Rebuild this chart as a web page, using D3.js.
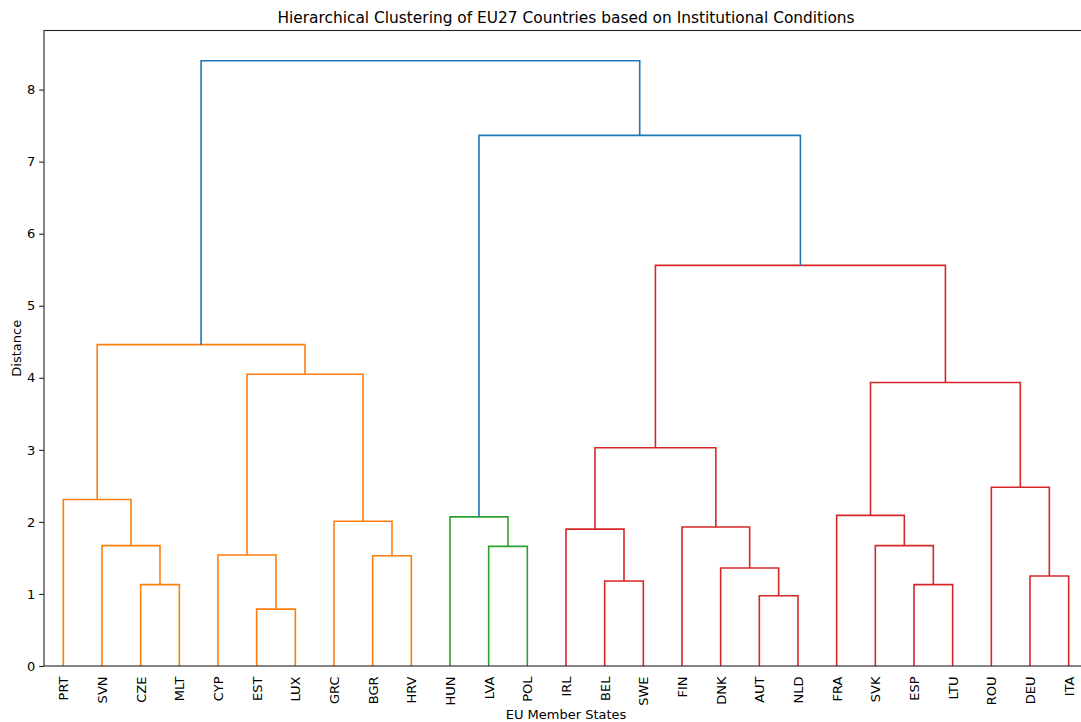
<!DOCTYPE html>
<html>
<head>
<meta charset="utf-8">
<script src="https://cdn.jsdelivr.net/npm/d3@7"></script>
<style>
  html, body { margin: 0; padding: 0; background: #fff; }
  svg { display: block; }
  text { font-family: "DejaVu Sans", sans-serif; fill: #000; }
</style>
</head>
<body>
<svg id="chart" width="1081" height="722"></svg>
<script>
// ---- Data ----
const leaves = ["PRT","SVN","CZE","MLT","CYP","EST","LUX","GRC","BGR","HRV",
                "HUN","LVA","POL","IRL","BEL","SWE","FIN","DNK","AUT","NLD",
                "FRA","SVK","ESP","LTU","ROU","DEU","ITA"];
// merges: [left, right, distance]; clusters are named c0, c1, ... in order
const mergeLeft  = ["CZE","SVN","PRT","EST","CYP","BGR","GRC","c4","c2",
                    "LVA","HUN",
                    "BEL","IRL","AUT","DNK","FIN","c12","ESP","SVK","FRA","DEU","ROU","c19","c16",
                    "c10","c8"];
const mergeRight = ["MLT","c0","c1","LUX","c3","HRV","c5","c6","c7",
                    "POL","c9",
                    "SWE","c11","NLD","c13","c14","c15","LTU","c17","c18","ITA","c20","c21","c22",
                    "c23","c24"];
const mergeDist  = [1.13,1.67,2.31,0.79,1.54,1.53,2.01,4.05,4.46,
                    1.66,2.07,
                    1.18,1.90,0.975,1.36,1.93,3.03,1.13,1.67,2.09,1.25,2.48,3.935,5.56,
                    7.365,8.40];
const yTicks = [0,1,2,3,4,5,6,7,8];
const titleText = "Hierarchical Clustering of EU27 Countries based on Institutional Conditions";
const xLabel = "EU Member States";
const yLabel = "Distance";

// ---- Layout ----
const W = 1081, H = 722;
const plot = { left: 44, right: 1088, top: 30.5, bottom: 666 };
const aboveColor = "#1f77b4";
const palette = ["#ff7f0e", "#2ca02c", "#d62728", "#9467bd"];
const maxDist = d3.max(mergeDist);
const threshold = 0.7 * maxDist;

const svg = d3.select("#chart");

const x = d3.scaleLinear().domain([0, leaves.length * 10]).range([plot.left, plot.right]);
const y = d3.scaleLinear().domain([0, maxDist * 1.05]).range([plot.bottom, plot.top]);

// node positions
const pos = {};
leaves.forEach((l, i) => { pos[l] = { x: 5 + 10 * i, h: 0 }; });
const nodes = mergeLeft.map((a, k) => {
  const b = mergeRight[k];
  const n = { name: "c" + k, a, b, h: mergeDist[k], x: (pos[a].x + pos[b].x) / 2 };
  pos[n.name] = n;
  return n;
});

// colors (scipy-like threshold coloring)
const colorOf = {};
let groupIdx = 0;
function paint(name, col) {
  const n = pos[name];
  if (!n.a) return;
  colorOf[name] = col;
  paint(n.a, col); paint(n.b, col);
}
function assign(name) {
  const n = pos[name];
  if (!n.a) return;
  if (n.h >= threshold) {
    colorOf[name] = aboveColor;
    assign(n.a); assign(n.b);
  } else {
    paint(name, palette[groupIdx % palette.length]);
    groupIdx++;
  }
}
assign(nodes[nodes.length - 1].name);

// ---- Links ----
const g = svg.append("g");
nodes.forEach(n => {
  const pa = pos[n.a], pb = pos[n.b];
  const path = d3.path();
  path.moveTo(x(pa.x), y(pa.h));
  path.lineTo(x(pa.x), y(n.h));
  path.lineTo(x(pb.x), y(n.h));
  path.lineTo(x(pb.x), y(pb.h));
  g.append("path")
    .attr("d", path.toString())
    .attr("fill", "none")
    .attr("stroke", colorOf[n.name])
    .attr("stroke-width", 1.6);
});

// ---- Frame ----
svg.append("rect")
  .attr("x", plot.left).attr("y", plot.top)
  .attr("width", plot.right - plot.left).attr("height", plot.bottom - plot.top)
  .attr("fill", "none").attr("stroke", "#222").attr("stroke-width", 1.1);

// ---- Y axis ----
const yAxis = d3.axisLeft(y).tickValues(yTicks).tickFormat(d3.format("d")).tickSize(4.8).tickPadding(4);
const ya = svg.append("g").attr("transform", `translate(${plot.left},0)`).call(yAxis);
ya.select(".domain").remove();
ya.selectAll("line").attr("stroke", "#222").attr("stroke-width", 1.1);
ya.selectAll("text").attr("font-size", 13).attr("font-family", "DejaVu Sans").attr("fill", "#000");

// ---- X axis (leaf labels) ----
const xAxis = d3.axisBottom(x)
  .tickValues(leaves.map((l, i) => 5 + 10 * i))
  .tickFormat((d, i) => leaves[i])
  .tickSize(0);
const xa = svg.append("g").attr("transform", `translate(0,${plot.bottom})`).call(xAxis);
xa.select(".domain").remove();
xa.selectAll("line").remove();
xa.selectAll("text")
  .attr("font-size", 13).attr("font-family", "DejaVu Sans").attr("fill", "#000")
  .attr("transform", "rotate(-90)")
  .attr("text-anchor", "end")
  .attr("x", -10.5).attr("y", 0).attr("dy", "0.35em");

// ---- Titles ----
svg.append("text")
  .attr("x", (plot.left + plot.right) / 2).attr("y", 23)
  .attr("text-anchor", "middle").attr("font-size", 15.4)
  .text(titleText);
svg.append("text")
  .attr("x", (plot.left + plot.right) / 2).attr("y", 719)
  .attr("text-anchor", "middle").attr("font-size", 13)
  .text(xLabel);
svg.append("text")
  .attr("transform", `translate(21,${(plot.top + plot.bottom) / 2}) rotate(-90)`)
  .attr("text-anchor", "middle").attr("font-size", 13)
  .text(yLabel);
</script>
</body>
</html>
